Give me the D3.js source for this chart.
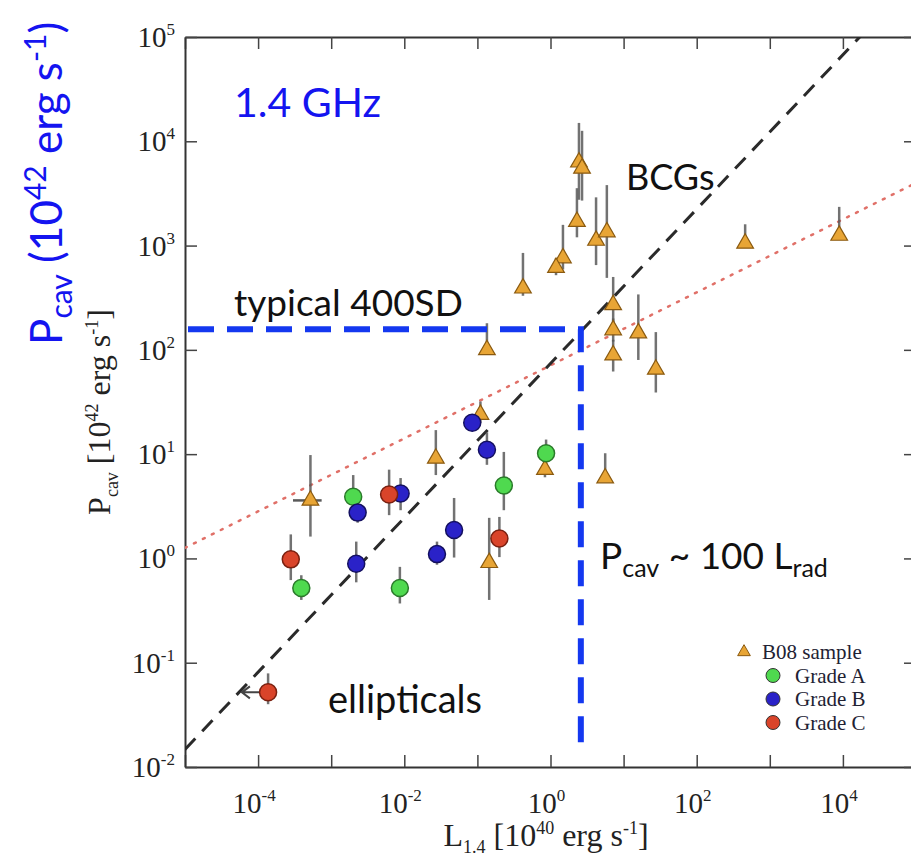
<!DOCTYPE html>
<html lang="en">
<head>
<meta charset="UTF-8" />
<script src="https://d3js.org/d3.v7.min.js"></script>
<title>Pcav vs L1.4</title>
<style>
  body { margin: 0; background: #fff; }
  svg { display: block; }
</style>
</head>
<body>
<script>
// B08 sample (triangles): L1.4, Pcav, lower / upper Pcav error
var b08 = [
  {L: 2.45, P: 6300, lo: 2750, hi: 15000},
  {L: 2.7, P: 5500, lo: 2700, hi: 12600},
  {L: 2.3, P: 1700, lo: 1200, hi: 3550},
  {L: 4.2, P: 1120, lo: 650, hi: 2900},
  {L: 5.9, P: 1350, lo: 490, hi: 3800},
  {L: 1.48, P: 760, lo: 590, hi: 1580},
  {L: 1.19, P: 615, lo: 520, hi: 760},
  {L: 0.42, P: 390, lo: 330, hi: 850},
  {L: 7.2, P: 270, lo: 175, hi: 500},
  {L: 7.2, P: 155, lo: 120, hi: 200},
  {L: 15.9, P: 145, lo: 80, hi: 340},
  {L: 7.2, P: 89, lo: 62, hi: 125},
  {L: 27.6, P: 65, lo: 39, hi: 148},
  {L: 460, P: 1050, lo: 1050, hi: 1600},
  {L: 8900, P: 1250, lo: 1250, hi: 2350},
  {L: 0.135, P: 100, lo: 90, hi: 180},
  {L: 0.11, P: 24, lo: 20, hi: 32},
  {L: 0.84, P: 7.1, lo: 6, hi: 9},
  {L: 5.6, P: 5.9, lo: 5.9, hi: 10.2},
  {L: 5.2e-4, P: 3.6, lo: 1.62, hi: 9.8, Llo: 3.0e-4, Lhi: 7.4e-4},
  {L: 0.027, P: 9.1, lo: 6.3, hi: 17},
  {L: 0.145, P: 0.91, lo: 0.4, hi: 2.45}
];

var gradeA = [
  {L: 2.0e-3, P: 3.9, lo: 3.4, hi: 6.3},
  {L: 0.23, P: 5.0, lo: 2.9, hi: 10.5},
  {L: 0.87, P: 10.2, lo: 7.1, hi: 13.8},
  {L: 3.9e-4, P: 0.52, lo: 0.4, hi: 0.69},
  {L: 8.7e-3, P: 0.52, lo: 0.37, hi: 0.83}
];

var gradeB = [
  {L: 2.3e-3, P: 2.75, lo: 2.2, hi: 3.4},
  {L: 8.9e-3, P: 4.2, lo: 2.9, hi: 5.9},
  {L: 0.085, P: 20, lo: 18, hi: 23},
  {L: 0.135, P: 11, lo: 7.9, hi: 16.2},
  {L: 0.048, P: 1.87, lo: 1.02, hi: 3.8},
  {L: 0.028, P: 1.1, lo: 0.87, hi: 1.45},
  {L: 2.2e-3, P: 0.89, lo: 0.59, hi: 1.45}
];

var gradeC = [
  {L: 6.2e-3, P: 4.1, lo: 2.6, hi: 7.1},
  {L: 0.2, P: 1.55, lo: 1.03, hi: 2.5},
  {L: 2.8e-4, P: 0.98, lo: 0.62, hi: 1.7},
  {L: 1.37e-4, P: 0.052, lo: 0.04, hi: 0.079, limit: 6e-5}
];

// fits: Pcav = norm * L^slope
var steepFit = {norm: 74, slope: 0.74};
var flatFit = {norm: 71, slope: 0.35};

// typical 400SD box corner
var box400 = {L: 2.6, P: 158, Pbottom: 0.013};

var xDecades = [-5, -4, -3, -2, -1, 0, 1, 2, 3, 4, 5];
var xLabels = [-4, -2, 0, 2, 4];
var yDecades = [-2, -1, 0, 1, 2, 3, 4, 5];

var legendItems = [
  {name: "B08 sample", shape: "tri", color: "#e8a535"},
  {name: "Grade A", shape: "circle", color: "#4fd94f"},
  {name: "Grade B", shape: "circle", color: "#2a22c8"},
  {name: "Grade C", shape: "circle", color: "#d9442a"}
];

var w = 911, h = 859;
var plotLeft = 185, plotRight = 916, plotTop = 37, plotBottom = 767;

var svg = d3.select("body").append("svg")
  .attr("width", w).attr("height", h);

var x = d3.scaleLog().domain([1e-5, 1e5]).range([plotLeft, plotRight]);
var y = d3.scaleLog().domain([1e-2, 1e5]).range([plotBottom, plotTop]);

svg.append("clipPath").attr("id", "plotclip")
  .append("rect").attr("x", plotLeft).attr("y", plotTop)
  .attr("width", plotRight - plotLeft).attr("height", plotBottom - plotTop);

var serif = "'Liberation Serif', 'DejaVu Serif', serif";
var sans = "Lato, 'Open Sans', sans-serif";

// frame and ticks
function tickAxis(axis, transform) {
  var g = svg.append("g").attr("transform", transform).call(axis);
  g.select(".domain").attr("stroke", "#333").attr("stroke-width", 2);
  g.selectAll(".tick line").attr("stroke", "#444").attr("stroke-width", 1.5);
  g.selectAll(".tick text").remove();
  return g;
}
var xTickVals = xDecades.map(function (d) { return Math.pow(10, d); });
var yTickVals = yDecades.map(function (d) { return Math.pow(10, d); });
tickAxis(d3.axisBottom(x).tickValues(xTickVals).tickSize(-12).tickSizeOuter(0), "translate(0," + plotBottom + ")");
tickAxis(d3.axisTop(x).tickValues(xTickVals).tickSize(-12).tickSizeOuter(0), "translate(0," + plotTop + ")");
tickAxis(d3.axisLeft(y).tickValues(yTickVals).tickSize(-12).tickSizeOuter(0), "translate(" + plotLeft + ",0)");
tickAxis(d3.axisRight(y).tickValues(yTickVals).tickSize(-12).tickSizeOuter(0), "translate(" + plotRight + ",0)");

// tick labels with superscripts
xLabels.forEach(function (d) {
  var t = svg.append("text").attr("x", x(Math.pow(10, d)) - 4).attr("y", plotBottom + 46)
    .attr("text-anchor", "middle").attr("font-family", serif).attr("font-size", 29).attr("fill", "#222");
  t.append("tspan").text("10");
  t.append("tspan").attr("dy", -12).attr("font-size", 17).text(d);
});
yDecades.forEach(function (d) {
  var t = svg.append("text").attr("x", plotLeft - 10).attr("y", y(Math.pow(10, d)) + 10)
    .attr("text-anchor", "end").attr("font-family", serif).attr("font-size", 29).attr("fill", "#222");
  t.append("tspan").text("10");
  t.append("tspan").attr("dy", -12).attr("font-size", 17).text(d);
});

// axis titles
var xt = svg.append("text").attr("x", 546).attr("y", 846).attr("text-anchor", "middle")
  .attr("font-family", serif).attr("font-size", 32).attr("fill", "#222");
xt.append("tspan").text("L");
xt.append("tspan").attr("dy", 7).attr("font-size", 18).text("1.4");
xt.append("tspan").attr("dy", -7).text(" [10");
xt.append("tspan").attr("dy", -12).attr("font-size", 18).text("40");
xt.append("tspan").attr("dy", 12).text(" erg s");
xt.append("tspan").attr("dy", -12).attr("font-size", 18).text("-1");
xt.append("tspan").attr("dy", 12).text("]");

var yt = svg.append("text").attr("transform", "translate(110,412) rotate(-90)").attr("text-anchor", "middle")
  .attr("font-family", serif).attr("font-size", 32).attr("fill", "#222");
yt.append("tspan").text("P");
yt.append("tspan").attr("dy", 8).attr("font-size", 18).text("cav");
yt.append("tspan").attr("dy", -8).text(" [10");
yt.append("tspan").attr("dy", -12).attr("font-size", 18).text("42");
yt.append("tspan").attr("dy", 12).text(" erg s");
yt.append("tspan").attr("dy", -12).attr("font-size", 18).text("-1");
yt.append("tspan").attr("dy", 12).text("]");

// big blue label
var bl = svg.append("text").attr("transform", "translate(62,345) rotate(-90)").attr("text-anchor", "start")
  .attr("font-family", sans).attr("font-size", 44).attr("fill", "#1414f0");
bl.append("tspan").text("P");
bl.append("tspan").attr("dy", 10).attr("font-size", 30).text("cav");
bl.append("tspan").attr("dy", -10).text(" (10");
bl.append("tspan").attr("dy", -16).attr("font-size", 30).text("42");
bl.append("tspan").attr("dy", 16).text(" erg s");
bl.append("tspan").attr("dy", -16).attr("font-size", 30).text("-1");
bl.append("tspan").attr("dy", 16).text(")");

var plot = svg.append("g").attr("clip-path", "url(#plotclip)");

// fit lines
function fitPoints(fit) {
  return [1e-5, 1e5].map(function (L) { return [x(L), y(fit.norm * Math.pow(L, fit.slope))]; });
}
plot.append("path").attr("d", d3.line()(fitPoints(flatFit)))
  .attr("stroke", "#e07068").attr("stroke-width", 2.5).attr("stroke-dasharray", "2 8")
  .attr("stroke-linecap", "round").attr("fill", "none");
plot.append("path").attr("d", d3.line()(fitPoints(steepFit)))
  .attr("stroke", "#2a2a2a").attr("stroke-width", 3).attr("stroke-dasharray", "15 10").attr("fill", "none");

// error bars
var all = [].concat(b08, gradeA, gradeB, gradeC);
plot.selectAll(".err").data(all).enter().append("line")
  .attr("x1", function (d) { return x(d.L); }).attr("x2", function (d) { return x(d.L); })
  .attr("y1", function (d) { return y(d.lo); }).attr("y2", function (d) { return y(d.hi); })
  .attr("stroke", "#5a5a5a").attr("stroke-width", 2.5).attr("opacity", 0.85);
plot.selectAll(".xerr").data(b08.filter(function (d) { return d.Llo; })).enter().append("line")
  .attr("x1", function (d) { return x(d.Llo); }).attr("x2", function (d) { return x(d.Lhi); })
  .attr("y1", function (d) { return y(d.P); }).attr("y2", function (d) { return y(d.P); })
  .attr("stroke", "#5a5a5a").attr("stroke-width", 2.5);

// upper limit arrow
gradeC.filter(function (d) { return d.limit; }).forEach(function (d) {
  var x0 = x(d.L) - 8, x1 = x(d.limit), yy = y(d.P);
  plot.append("path").attr("d", "M" + x0 + "," + yy + "H" + x1 + "M" + (x1 + 8) + "," + (yy - 6) + "L" + x1 + "," + yy + "L" + (x1 + 8) + "," + (yy + 6))
    .attr("stroke", "#444").attr("stroke-width", 2).attr("fill", "none");
});

// triangles
var tri = d3.symbol().type(d3.symbolTriangle).size(120);
plot.selectAll(".tri").data(b08).enter().append("path")
  .attr("d", tri)
  .attr("transform", function (d) { return "translate(" + x(d.L) + "," + y(d.P) + ")"; })
  .attr("fill", "#e8a535").attr("stroke", "#8a5a10").attr("stroke-width", 1.2);

// circles
[[gradeA, "#4fd94f", "#2a7a2a"], [gradeB, "#2a22c8", "#141060"], [gradeC, "#d9442a", "#7a2010"]].forEach(function (g) {
  plot.selectAll(null).data(g[0]).enter().append("circle")
    .attr("cx", function (d) { return x(d.L); }).attr("cy", function (d) { return y(d.P); })
    .attr("r", 8.5).attr("fill", g[1]).attr("stroke", g[2]).attr("stroke-width", 1.5);
});

// 400SD box
plot.append("path")
  .attr("d", "M" + (plotLeft + 3) + "," + y(box400.P) + "H" + x(box400.L) + "V" + y(box400.Pbottom))
  .attr("stroke", "#1438f0").attr("stroke-width", 6).attr("stroke-dasharray", "26 13").attr("fill", "none");

// legend
var lg = svg.append("g");
legendItems.forEach(function (d, i) {
  var ly = 652 + i * 23.5;
  var lx = i === 0 ? 744 : 773;
  if (d.shape === "tri") {
    lg.append("path").attr("d", d3.symbol().type(d3.symbolTriangle).size(70))
      .attr("transform", "translate(" + lx + "," + ly + ")").attr("fill", d.color).attr("stroke", "#8a5a10");
  } else {
    lg.append("circle").attr("cx", lx).attr("cy", ly).attr("r", 7)
      .attr("fill", d.color).attr("stroke", "#333").attr("stroke-width", 1);
  }
  lg.append("text").attr("x", lx + (i === 0 ? 18 : 22)).attr("y", ly + 7)
    .attr("font-family", serif).attr("font-size", 21).attr("fill", "#223")
    .text(d.name);
});

// annotations
svg.append("text").attr("x", 234).attr("y", 117).attr("font-family", sans).attr("font-size", 41)
  .attr("fill", "#1414f0").text("1.4 GHz");
svg.append("text").attr("x", 626).attr("y", 190).attr("font-family", sans).attr("font-size", 36)
  .attr("fill", "#111").text("BCGs");
svg.append("text").attr("x", 234).attr("y", 316).attr("font-family", sans).attr("font-size", 37)
  .attr("fill", "#111").text("typical 400SD");
svg.append("text").attr("x", 328).attr("y", 713).attr("font-family", sans).attr("font-size", 38)
  .attr("fill", "#111").text("ellipticals");
var pc = svg.append("text").attr("x", 600).attr("y", 569).attr("font-family", sans).attr("font-size", 37)
  .attr("fill", "#111");
pc.append("tspan").text("P");
pc.append("tspan").attr("dy", 8).attr("font-size", 25).text("cav");
pc.append("tspan").attr("dy", -8).text(" ~ 100 L");
pc.append("tspan").attr("dy", 8).attr("font-size", 25).text("rad");
</script>
</body>
</html>
